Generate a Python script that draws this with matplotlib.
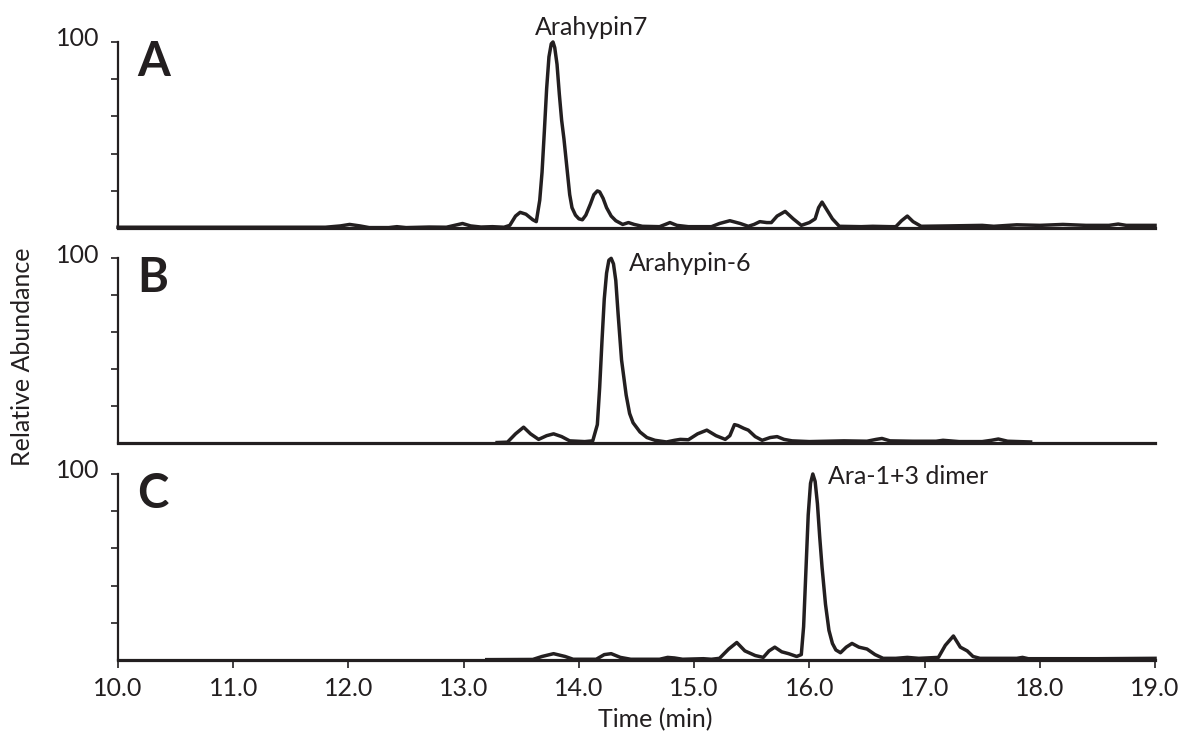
import matplotlib.pyplot as plt
from matplotlib.transforms import ScaledTranslation

plt.rcParams['font.family'] = ['Lato', 'DejaVu Sans']

INK = '#231f20'

# trace A (Arahypin7): time (min), relative abundance (%)
time_a = [10.0, 11.8, 11.93, 12.01, 12.10, 12.18, 12.35, 12.42, 12.50, 12.70, 12.85,
          12.92, 12.99, 13.06, 13.15, 13.25, 13.35, 13.40, 13.45, 13.49, 13.54, 13.60,
          13.63, 13.66, 13.68, 13.70, 13.72, 13.74, 13.76, 13.775, 13.79, 13.81, 13.83,
          13.85, 13.87, 13.90, 13.92, 13.94, 13.97, 14.00, 14.03, 14.06, 14.10, 14.13,
          14.16, 14.18, 14.21, 14.24, 14.28, 14.32, 14.38, 14.43, 14.48, 14.55,
          14.70, 14.75, 14.79, 14.85, 14.95, 15.15, 15.22, 15.31, 15.40, 15.47, 15.52,
          15.57, 15.63, 15.67, 15.72, 15.79, 15.86, 15.93, 16.00, 16.05, 16.08, 16.11,
          16.15, 16.20, 16.26, 16.45, 16.55, 16.70, 16.75, 16.80, 16.85, 16.90, 16.97,
          17.2, 17.5, 17.6, 17.8, 18.0, 18.2, 18.4, 18.6, 18.68, 18.75, 19.0]
abund_a = [0.5, 0.5, 1.2, 2.0, 1.2, 0.3, 0.3, 0.8, 0.3, 0.6, 0.5,
           1.5, 2.5, 1.2, 0.6, 0.8, 0.5, 1.5, 6.5, 8.5, 7.5, 4.5,
           3.5, 15, 30, 52, 75, 92, 99, 100, 97, 88, 72,
           58, 48, 30, 18, 11, 7, 5, 4.5, 7, 13, 18,
           20, 19.5, 16, 11, 6.5, 4, 2, 3, 2, 1,
           0.8, 2, 3, 1.5, 0.8, 0.8, 2.5, 4, 2.5, 1, 2,
           3.5, 3, 3, 6.5, 9, 5, 1.5, 3, 5, 11, 14,
           10, 5, 1, 0.8, 1, 0.8, 0.8, 4, 6.5, 3.5, 1,
           1.2, 1.5, 1, 1.8, 1.5, 2, 1.5, 1.5, 2.2, 1.5, 1.5]

# trace B (Arahypin-6)
time_b = [13.29, 13.38, 13.45, 13.52, 13.58, 13.65, 13.72, 13.78, 13.85, 13.92, 14.05,
          14.12, 14.16, 14.18, 14.20, 14.22, 14.24, 14.26, 14.28, 14.30, 14.32, 14.34,
          14.37, 14.41, 14.44, 14.47, 14.53, 14.59, 14.66, 14.76, 14.83, 14.88, 14.95,
          15.03, 15.11, 15.19, 15.27, 15.31, 15.35, 15.38, 15.43, 15.47, 15.53, 15.59,
          15.66, 15.72, 15.78, 15.85, 16.0, 16.3, 16.5, 16.58, 16.63, 16.7, 16.9,
          17.1, 17.16, 17.3, 17.5, 17.58, 17.64, 17.72, 17.92]
abund_b = [0.3, 0.5, 5, 8.6, 5, 2, 4, 5, 3.5, 1.2, 0.8,
           1.2, 10, 30, 55, 78, 92, 99, 100, 97, 88, 70,
           45, 26, 16, 11, 6, 3, 1.5, 0.6, 1.5, 2, 1.8,
           5, 7, 4, 2, 4, 10, 9.5, 8, 7, 3.5, 1.5,
           3, 3.5, 2, 1.2, 0.8, 1.2, 1, 2, 2.5, 1.2, 1,
           1, 1.5, 0.8, 0.8, 1.5, 2.2, 1, 0.6]

# trace C (Ara-1+3 dimer)
time_c = [13.2, 13.6, 13.68, 13.78, 13.88, 13.95, 14.15, 14.22, 14.28, 14.36, 14.45,
          14.7, 14.77, 14.83, 14.9, 15.08, 15.15, 15.22, 15.3, 15.37, 15.44, 15.53,
          15.60, 15.65, 15.70, 15.76, 15.82, 15.89, 15.93, 15.95, 15.97, 15.99, 16.01,
          16.03, 16.05, 16.07, 16.09, 16.11, 16.14, 16.17, 16.20, 16.23, 16.27, 16.32,
          16.37, 16.43, 16.5, 16.57, 16.64, 16.75, 16.85, 16.95, 17.12, 17.18, 17.25,
          17.31, 17.37, 17.42, 17.48, 17.8, 17.85, 17.9, 18.5, 19.0]
abund_c = [0.3, 0.4, 2, 3.5, 2, 0.5, 0.5, 3, 3.5, 1.5, 0.5,
           0.5, 1.5, 1.2, 0.5, 0.8, 0.5, 1, 6, 9.5, 5, 2.5,
           1.5, 5, 7, 4.5, 3.5, 2, 3, 18, 48, 78, 95,
           100, 96, 84, 66, 50, 30, 16, 9, 5.5, 4, 7,
           9, 7, 6, 3, 1, 1, 1.5, 1, 1.5, 8, 13,
           7, 5, 2, 1, 1, 1.5, 0.8, 0.8, 1.0]

panel_letters = ['A', 'B', 'C']
peak_names = ['Arahypin7', 'Arahypin-6', 'Ara-1+3 dimer']
x_ticks = [10.0, 11.0, 12.0, 13.0, 14.0, 15.0, 16.0, 17.0, 18.0, 19.0]

traces = [(time_a, abund_a), (time_b, abund_b), (time_c, abund_c)]

fig = plt.figure(figsize=(11.92, 7.36), dpi=100)

# axes boxes in figure fraction: left, bottom, width, height
boxes = [(0.099, 0.690, 0.870, 0.253),
         (0.099, 0.398, 0.870, 0.251),
         (0.099, 0.103, 0.870, 0.253)]
# annotation placement (data coords)
label_pos = [(13.62, 108), (14.43, 97), (16.16, 98.5)]

lift = ScaledTranslation(0, 5 / 100, fig.dpi_scale_trans)

for i, (t, y) in enumerate(traces):
    ax = fig.add_axes(boxes[i])
    ax.plot(t, y, color=INK, lw=2.5, solid_joinstyle='round', clip_on=False, zorder=3)
    ax.set_xlim(10, 19)
    ax.set_ylim(0, 100)

    for side in ['top', 'right']:
        ax.spines[side].set_visible(False)
    ax.spines['left'].set_linewidth(1.6)
    ax.spines['bottom'].set_linewidth(2.3)
    ax.spines['left'].set_color(INK)
    ax.spines['bottom'].set_color(INK)

    ax.set_yticks([20, 40, 60, 80, 100])
    ax.set_yticklabels(['', '', '', '', '100'])
    ax.tick_params(axis='y', direction='out', length=5, width=1.2, color=INK,
                   labelsize=18, labelcolor=INK, pad=8)
    for lab in ax.get_yticklabels():
        lab.set_transform(lab.get_transform() + lift)

    if i < 2:
        ax.set_xticks([])
    else:
        ax.set_xticks(x_ticks)
        ax.set_xticklabels([f'{v:.1f}' for v in x_ticks])
        ax.tick_params(axis='x', direction='out', length=6, width=1.2, color=INK,
                       labelsize=18, labelcolor=INK, pad=6)

    ax.text(10.17, 101, panel_letters[i], fontsize=34, fontweight='bold',
            color=INK, va='top', ha='left')
    lx, ly = label_pos[i]
    ax.text(lx, ly, peak_names[i], fontsize=18, color=INK, ha='left', va='center',
            clip_on=False)

fig.text(0.019, 0.515, 'Relative Abundance', rotation=90, fontsize=18,
         color=INK, ha='center', va='center')
fig.text(0.550, 0.022, 'Time (min)', fontsize=18, color=INK,
         ha='center', va='center')

fig.savefig('out.png', dpi=100)
